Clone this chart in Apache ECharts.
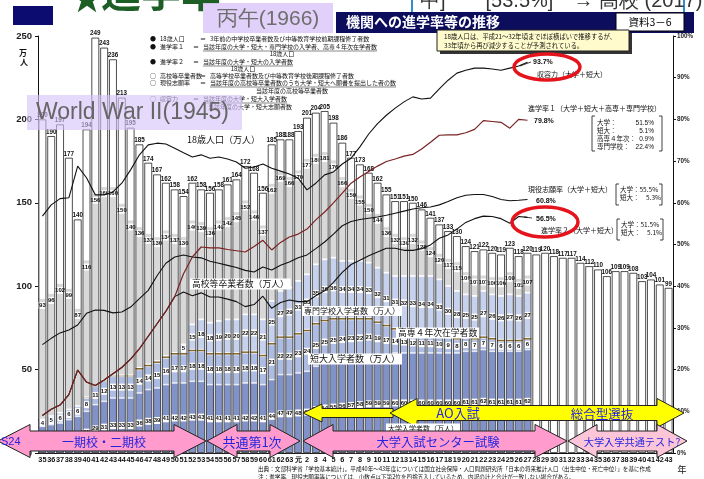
<!DOCTYPE html>
<html><head><meta charset="utf-8">
<script src="https://cdn.jsdelivr.net/npm/echarts@6/dist/echarts.min.js"></script>
<style>html,body{margin:0;padding:0;background:#fff}#c{width:704px;height:479px}</style>
</head><body><div id="c"></div>
<script>
// ---- data (万人 / %) ----
const years = ['35','36','37','38','39','40','41','42','43','44','45','46','47','48','49','50','51','52','53','54','55','56','57','58','59','60','61','62','63','元','2','3','4','5','6','7','8','9','10','11','12','13','14','15','16','17','18','19','20','21','22','23','24','25','26','27','28','29','30','31','32','33','34','35','36','37','38','39','40','41','42','43'];
const pop18 = [200,190,197,177,140,194,249,243,236,213,195,185,174,167,162,158,154,162,158,156,158,161,164,172,168,156,185,188,188,193,201,204,205,198,186,177,173,168,162,155,151,151,150,146,141,137,133,130,124,121,122,120,119,123,118,120,119,120,118,117,117,114,112,110,106,109,109,108,103,104,101,99];
const hsGrad = [93,96,102,99,87,116,156,160,160,150,140,136,132,130,134,132,130,140,139,136,140,142,145,152,146,137,162,169,166,170,177,180,181,176,166,159,155,150,144,136,132,130,132,128,124,120,117,115,109,107,107,106,106,109,105,107];
const univ = [16,17,18,20,22,25,29,31,33,33,33,36,38,39,41,42,42,43,43,41,41,41,41,42,42,41,44,47,47,48,49,52,54,55,56,57,58,59,59,59,60,60,60,60,60,60,60,60,61,61,62,61,61,61,61,62];
const jcoll = [4,5,6,6,6,8,11,12,13,13,13,14,14,15,16,17,17,18,18,18,18,18,18,18,18,17,21,22,22,23,24,25,25,25,24,23,22,21,19,17,14,13,12,11,11,10,9,8,8,7,7,7,6,6,6,6];
const kosen4 = [0,0,0,0,0,0.3,0.5,0.5,0.5,0.5,0.5,1,1,1,1,1,1,1,1,1,1,1,1,1,1,1,1,1,1,1,1,1,1,1,1,1,1,1,1,1,1,1,1,1,1,1,1,1,1,1,1,1,1,1,1,1];
const senmon = [null,null,null,null,null,null,null,null,null,null,null,null,null,null,null,null,5,15,18,18,19,20,20,22,22,21,25,27,29,31,33,35,36,36,34,34,34,33,32,31,31,32,33,34,34,33,30,28,25,25,27,26,26,27,26,27];
const rateCapacity = [56.8,59.5,61,61.2,68.8,66,61.9,61.9,62.6,64.7,67.9,71.5,73.9,74.3,74.1,73.1,72,71,71.5,70.7,71,70.5,69.8,68.3,68.6,69.3,68.3,67.6,66.9,65.9,63.1,64.7,66.7,67.4,69.3,70.7,73.4,76.5,79,81,82.7,84.2,85.4,84.9,85.1,87.3,89.4,91.1,91.8,92.3,92.3,92.1,91.8,92.3,92.8,93.7];
const rateAdv1 = [9,10.5,11.5,14,19.9,17,16.2,17.5,19,20.5,22.5,25,28,31,34,37.5,43,47,49.4,49.2,49.2,48.8,48.5,48.2,49.5,51,48.7,50.5,51.8,52.5,53.7,55.9,57.8,60,62.3,64.7,66.2,67.5,68.8,69.9,70.5,71.2,71.6,72.9,74.5,76.2,76.3,76.3,76.8,77.6,79.7,79.5,79.3,77.9,80,79.8];
const rateAdv2 = [9,10.5,11.5,14,19.9,17,16.2,17.5,19,20.5,22.5,25,28,31,34,37.5,38.6,37.7,38.4,37.4,37.4,36.9,36.3,35.1,35.6,37.6,34.7,36.1,36.7,36.3,36.3,37.7,38.9,40.9,43.3,45.2,46.2,47.3,48.2,49.1,49.1,48.6,48.6,49,49.9,51.5,52.3,53.7,55.3,56.2,56.8,56.7,56.2,55.1,56.7,56.5];
const rateApply = [26,27.5,28.8,29.5,30.7,33.5,34.3,34.2,33.6,33.8,35,37,39,42.5,45.5,47,47.5,47,46.8,46,45.5,45,44.5,43.8,43.4,44.6,43.9,45,45.8,46.8,47.5,49,50.6,52.5,54.5,55.5,56,56.3,56.6,57,57.5,58,58.5,58.8,59,59.5,60.3,61.2,61.8,62,62,61.5,60.8,60.5,60.6,60.8];

// ---- derived stacks ----
const v = (a,i)=> (a[i]==null?0:a[i]);
const hsRest = years.map((_,i)=> hsGrad[i]==null? null : +(hsGrad[i]-v(univ,i)-v(jcoll,i)-v(kosen4,i)-v(senmon,i)).toFixed(2));
const popRest = years.map((_,i)=> +(pop18[i]-v(hsGrad,i)).toFixed(2));

const JP = "'Noto Sans CJK JP', sans-serif";
const NUM = "'Liberation Sans', Arial, sans-serif";
const BW = 7.8;
const inLbl = (pos)=>({show:true, position:pos, fontSize:6, fontFamily:NUM, fontWeight:'bold', color:'#111', backgroundColor:'#fff', padding:[0,1,0,1], lineHeight:7});

const series = [
  {name:'大学', type:'bar', stack:'s', barWidth:BW, data:univ, itemStyle:{color:'#8192c8', borderColor:'#eef1fa', borderWidth:0.7}, label:inLbl('inside')},
  {name:'短大', type:'bar', stack:'s', barWidth:BW, data:jcoll, itemStyle:{color:'#adbce3', borderColor:'#eef1fa', borderWidth:0.7}, label:inLbl('inside')},
  {name:'高専', type:'bar', stack:'s', barWidth:BW, data:kosen4, itemStyle:{color:'#86692a'}},
  {name:'専門', type:'bar', stack:'s', barWidth:BW, data:senmon, itemStyle:{color:'#c6d1ed', borderColor:'#f3f5fc', borderWidth:0.7}, label:Object.assign(inLbl('inside'),{formatter:p=>p.value==null?'':p.value})},
  {name:'高卒', type:'bar', stack:'s', barWidth:BW, data:hsRest, itemStyle:{color:'#d8d8d8', borderColor:'#ffffff', borderWidth:1},
    label:Object.assign(inLbl('insideTop'),{distance:4, formatter:p=>hsGrad[p.dataIndex]})},
  {name:'残', type:'bar', stack:'s', barWidth:BW, data:popRest, itemStyle:{color:'#ffffff'}},
  {name:'18歳人口', type:'bar', barWidth:BW, barGap:'-100%', data:pop18, z:3,
    itemStyle:{color:'rgba(0,0,0,0)', borderColor:'#222', borderWidth:0.8},
    label:{show:true, position:'top', distance:1, fontSize:6.3, fontFamily:NUM, fontWeight:'bold', color:'#111'}},
  {name:'収容力', type:'line', yAxisIndex:1, data:rateCapacity, symbol:'none', z:6, lineStyle:{color:'#111', width:1.1}},
  {name:'現役志願率', type:'line', yAxisIndex:1, data:rateApply, symbol:'none', z:6, lineStyle:{color:'#111', width:1.1}},
  {name:'進学率2', type:'line', yAxisIndex:1, data:rateAdv2, symbol:'none', z:6, lineStyle:{color:'#111', width:1.1}},
  {name:'進学率1', type:'line', yAxisIndex:1, data:rateAdv1, symbol:'none', z:7, lineStyle:{color:'#7a2222', width:1.2}}
];

// ---- annotations ----
const G = [];
let zc = 100;
const add = (o)=>{ o.z = zc++; G.push(o); };
const T = (x,y,text,o={})=> add({type:'text', x, y, style:Object.assign({text, fontSize:6.5, fontFamily:JP, fill:'#111', align:'left', verticalAlign:'middle'}, o)});
const R = (x,y,w,h,st)=> add({type:'rect', shape:{x,y,width:w,height:h}, style:st});
const L = (x1,y1,x2,y2,c='#111',w=0.6)=> add({type:'line', shape:{x1,y1,x2,y2}, style:{stroke:c, lineWidth:w}});
const arrow2 = (x1,x2,cy,hwL,hwR,hh,bh,fill)=> add({type:'polygon', shape:{points:[[x1,cy],[x1+hwL,cy-hh/2],[x1+hwL,cy-bh/2],[x2-hwR,cy-bh/2],[x2-hwR,cy-hh/2],[x2,cy],[x2-hwR,cy+hh/2],[x2-hwR,cy+bh/2],[x1+hwL,cy+bh/2],[x1+hwL,cy+hh/2]]}, style:{fill, stroke:'#222', lineWidth:1}});
const arrowL = (x1,x2,cy,hw,hh,bh,fill)=> add({type:'polygon', shape:{points:[[x1,cy],[x1+hw,cy-hh/2],[x1+hw,cy-bh/2],[x2,cy-bh/2],[x2,cy+bh/2],[x1+hw,cy+bh/2],[x1+hw,cy+hh/2]]}, style:{fill, stroke:'#222', lineWidth:1}});
const bracket = (x1,x2,y1,y2)=>{ add({type:'polyline', shape:{points:[[x1+3,y1],[x1,y1],[x1,y2],[x1+3,y2]]}, style:{stroke:'#111', lineWidth:0.8, fill:null}}); add({type:'polyline', shape:{points:[[x2-3,y1],[x2,y1],[x2,y2],[x2-3,y2]]}, style:{stroke:'#111', lineWidth:0.8, fill:null}}); };

// top header
R(13,6,40,19,{fill:'#0c0c70'});
T(71,-2,'★',{fontSize:32, fill:'#1c5e24'});
T(101,-8,'進学率',{fontSize:40, fill:'#1c5e24', fontWeight:'bold'});
R(412,-22,272,35,{fill:'#fff', stroke:'#2f8fc8', lineWidth:2});
T(420,1,'中]　　[53.5%]　→ 高校 (2017)',{fontSize:20, fill:'#333', fontFamily:NUM});
R(336,12,358,21,{fill:'#0d0d5e'});
T(346,22,'機関への進学率等の推移',{fontSize:14, fontWeight:'bold', fill:'#fff'});
R(616,13,68,18,{fill:'#fff', stroke:'#000', lineWidth:1});
T(650,22,'資料3－6',{fontSize:10.5, align:'center', fill:'#000'});
R(203,3,130,30,{fill:'rgba(222,204,250,0.9)'});
T(268,19,'丙午(1966)',{fontSize:21, align:'center', fill:'#6e6e6e', fontFamily:NUM});

// legend block
const lg = [[39,'●','18歳人口','3年前の中学校卒業者数及び中等教育学校前期課程修了者数',false],
            [47,'●','進学率１','当該年度の大学・短大・専門学校の入学者、高専４年次在学者数',true],
            [62,'●','進学率２','当該年度の大学・短大の入学者数',true],
            [76,'○','高校等卒業者数','高等学校卒業者数及び中等教育学校後期課程修了者数',false],
            [83,'○','現役志願率','当該年度の高校等卒業者数のうち大学・短大へ願書を提出した者の数',true],
            [99,'○','収容力','当該年度の大学・短大入学者数',true]];
lg.forEach(([y,b,k,d,u])=>{
  T(150,y,b,{fontSize:6}); T(160,y,k,{fontSize:6});
  const ex = k.length>=5 ? 200 : 193;
  T(ex,y,'＝',{fontSize:6});
  T(ex+10,y,d,{fontSize:6});
  if(u) L(ex+10,y+4,ex+10+d.length*6,y+4,'#111',0.5);
});
T(282,54,'18歳人口',{fontSize:6, align:'center'});
T(243,69,'18歳人口',{fontSize:6, align:'center'});
T(292,91,'当該年度の高校等卒業者数',{fontSize:6, align:'center'});
T(208,107,'当該年度の大学・短大志願者数',{fontSize:6});

// WWII box
R(27,95,215,35,{fill:'rgba(215,196,250,0.62)'});
T(36,113,'World War II(1945)',{fontSize:23, fill:'#666', fontFamily:NUM});

// note box
R(440,33,192,21,{fill:'#333'});
R(437,30,192,21,{fill:'#fffbcc', stroke:'#222', lineWidth:1});
T(444,37,'18歳人口は、平成21～32年頃までほぼ横ばいで推移するが、',{fontSize:6.3});
T(444,46,'33年頃から再び減少することが予測されている。',{fontSize:6.3});

// right annotations
T(533,62,'93.7%',{fontSize:7, fontFamily:NUM, fontWeight:'bold'});
L(520,66,531,62,'#111',0.8);
T(537,74,'収容力（大学＋短大）',{fontSize:7});
add({type:'ellipse', shape:{cx:547,cy:67,rx:33,ry:13}, style:{fill:'none', stroke:'#e5141c', lineWidth:3.5}});
T(528,108,'進学率１（大学＋短大＋高専＋専門学校）',{fontSize:7});
T(534,121,'79.8%',{fontSize:7, fontFamily:NUM, fontWeight:'bold'});
bracket(592,662,116,151);
[['大学：',123,'51.5%'],['短大：',131,'5.1%'],['高専４年次：',139,'0.9%'],['専門学校：',147,'22.4%']].forEach(([a,y,b])=>{T(597,y,a,{fontSize:6.5}); T(654,y,b,{fontSize:6.5, align:'right', fontFamily:NUM});});
T(528,189,'現役志願率（大学＋短大）',{fontSize:7});
T(536,201,'60.8%',{fontSize:7, fontFamily:NUM, fontWeight:'bold'});
bracket(616,662,184,205);
T(620,190,'大学：55.5%',{fontSize:6.5}); T(620,198,'短大：　5.3%',{fontSize:6.5});
T(536,219,'56.5%',{fontSize:7, fontFamily:NUM, fontWeight:'bold'});
L(524,217,532,218,'#111',0.8);
T(541,230,'進学率２（大学＋短大）',{fontSize:7});
add({type:'ellipse', shape:{cx:545,cy:222,rx:33,ry:15}, style:{fill:'none', stroke:'#e5141c', lineWidth:3.5}});
bracket(617,663,219,240);
T(621,225,'大学：51.5%',{fontSize:6.5}); T(621,233,'短大：　5.1%',{fontSize:6.5});

// in-chart labels
T(187,140,'18歳人口（万人）',{fontSize:9});
const box = {backgroundColor:'#fff', padding:[1,2]};
T(190,284,'高校等卒業者数（万人）',Object.assign({fontSize:8.8},box));
T(302,311,'専門学校入学者数（万人）',Object.assign({fontSize:8},box));
T(396,333,'高専４年次在学者数',Object.assign({fontSize:8.8},box));
T(308,359,'短大入学者数（万人）',Object.assign({fontSize:9},box));

// axis extras
T(23,53,'万',{fontSize:8, align:'center', fontWeight:'bold'});
T(24,62,'人',{fontSize:8, align:'center', fontWeight:'bold'});
T(682,470,'年',{fontSize:9, align:'center'});
T(258,469,'出典：文部科学省「学校基本統計」。平成40年～43年度については国立社会保障・人口問題研究所「日本の将来推計人口（出生中位・死亡中位）」を基に作成',{fontSize:5.6});
T(258,477,'注：進学率、現役志願率等については、小数点以下第2位を四捨五入しているため、内訳の計と合計が一致しない場合がある。',{fontSize:5.6});

// yellow arrows
arrowL(303,393,413,19,18,9,'#ffff00');
arrow2(390,684,413,27,27,29,15,'#ffff00');
T(458,413,'AO入試',{fontSize:13, align:'center', fill:'#2424e0'});
T(602,414,'総合型選抜',{fontSize:12.5, align:'center', fill:'#2424e0'});
T(386,428,'大学入学者数（万人）',Object.assign({fontSize:7},box));

// pink arrows
arrow2(-2,206,441,32,32,33,20,'#ff9ccd');
arrow2(207,300,441,30,30,33,20,'#ff9ccd');
arrow2(303,567,441,30,32,33,20,'#ff9ccd');
arrow2(568,687,441,29,30,33,20,'#fcc6d8');
T(1,442,'S24',{fontSize:11, fill:'#2424e0', fontFamily:NUM});
T(104,442,'一期校・二期校',{fontSize:12, align:'center', fill:'#2424e0'});
T(252,442,'共通第1次',{fontSize:13, align:'center', fill:'#2424e0'});
T(438,442,'大学入試センター試験',{fontSize:12.3, align:'center', fill:'#2424e0'});
T(632,442,'大学入学共通テスト?',{fontSize:10.2, align:'center', fill:'#2424e0'});

const option = {
  animation:false,
  backgroundColor:'#fff',
  grid:{left:38, right:31, top:36, bottom:26, containLabel:false},
  xAxis:{type:'category', data:years, axisTick:{show:false}, axisLine:{lineStyle:{color:'#111'}},
    axisLabel:{interval:0, fontSize:7.3, fontFamily:NUM, fontWeight:'bold', color:'#111', margin:3}},
  yAxis:[
    {type:'value', min:0, max:250, interval:50, splitLine:{show:false},
      axisLine:{show:true, lineStyle:{color:'#111'}}, axisTick:{show:true, length:3, lineStyle:{color:'#111'}},
      axisLabel:{fontSize:9.5, fontFamily:NUM, fontWeight:'bold', color:'#222', margin:6}},
    {type:'value', min:0, max:100, interval:10, splitLine:{show:false}, position:'right',
      axisLine:{show:true, lineStyle:{color:'#111'}}, axisTick:{show:true, length:3, lineStyle:{color:'#111'}},
      axisLabel:{fontSize:6.3, fontFamily:NUM, fontWeight:'bold', color:'#222', margin:4, formatter:'{value}%'}}
  ],
  series,
  graphic:{elements:G}
};
const chart = echarts.init(document.getElementById('c'), null, {renderer:'canvas'});
chart.setOption(option);
</script></body></html>
